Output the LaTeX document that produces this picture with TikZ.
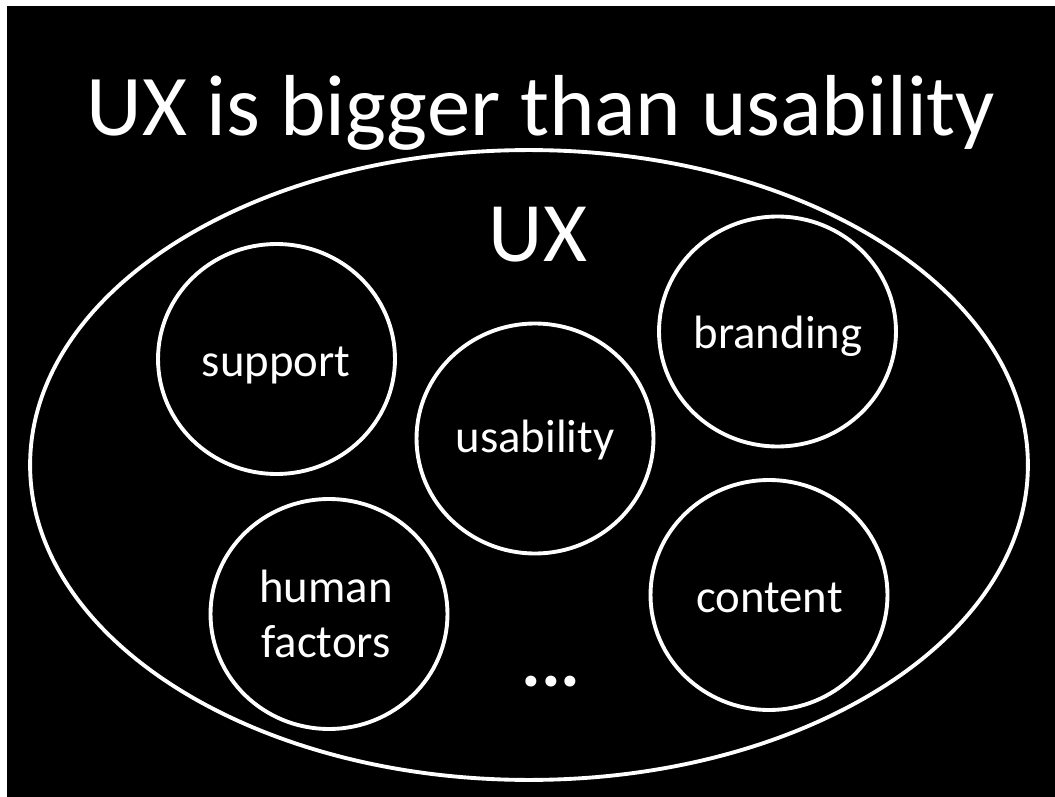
\documentclass[tikz,border=0pt]{standalone}
\usepackage{fontspec}
\setmainfont{Carlito}
\usetikzlibrary{shapes.geometric}

\tikzset{
  ring/.style={draw=white, line width=2.2pt, ellipse, inner sep=0pt},
  topic/.style={ring, minimum width=4.74cm, minimum height=4.6cm},
  topiclabel/.style={text=white, anchor=base, align=center,
    font=\fontsize{26.6}{31.2}\selectfont},
  heading/.style={text=white, anchor=base, inner sep=0pt,
    font=\fontsize{49.3}{59}\selectfont}
}

\begin{document}
\begin{tikzpicture}[x=0.02cm, y=-0.02cm]
			% page and slide
			\fill[white] (0,0) rectangle (1055,797);
			\fill[black] (7,6) rectangle (1055,797);
			\useasboundingbox (0,0) rectangle (1055,797);

			\node[heading] (title) at (541,136) {UX is bigger than usability};

			% the whole of UX
			\node[ring, minimum width=19.96cm, minimum height=12.6cm] (ux) at (529,465) {};
			\node[heading, font=\fontsize{48.2}{58}\selectfont] (uxlbl) at (538,262) {UX};

			% the parts inside it
			\node[topic] (support) at (276.5,359) {};
			\node[topic] (branding) at (777.5,331.5) {};
			\node[topic] (usability) at (535,438.5) {};
			\node[topic] (human) at (329,614) {};
			\node[topic] (content) at (769,595) {};

			\node[topiclabel] (supportlbl) at (276,377) {support};
			\node[topiclabel] (brandinglbl) at (778,348) {branding};
			\node[topiclabel] (usabilitylbl) at (535,452) {usability};
			% base of a two-line node sits on its last line
			\node[topiclabel] (humanlbl) at (326,657) {human\\factors};
			\node[topiclabel] (contentlbl) at (769.5,612) {content};
			\node[topiclabel, font=\fontsize{42}{50}\selectfont\bfseries] (morelbl) at (551,686) {...};
\end{tikzpicture}
\end{document}
